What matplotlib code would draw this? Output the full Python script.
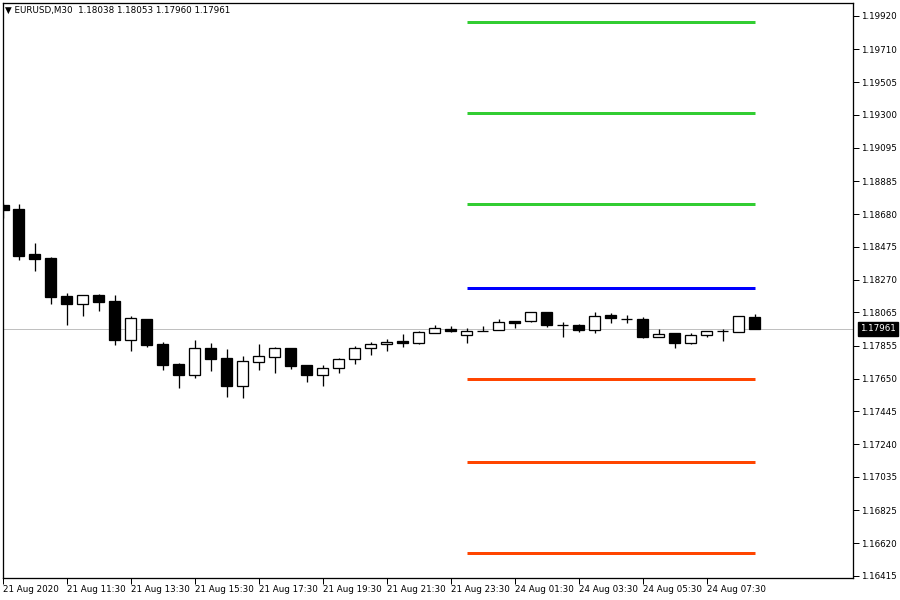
import matplotlib
matplotlib.use("Agg")
import matplotlib.pyplot as plt
import numpy as np

plt.rcParams['font.family'] = ['DejaVu Sans']

opens = [1.18737, 1.18712, 1.18430, 1.18407, 1.18168, 1.18119, 1.18174, 1.18136,
         1.17894, 1.18024, 1.17867, 1.17742, 1.17675, 1.17840, 1.17778, 1.17606,
         1.17756, 1.17784, 1.17840, 1.17734, 1.17675, 1.17715, 1.17771, 1.17840,
         1.17867, 1.17886, 1.17875, 1.17934, 1.17961, 1.17922, 1.17945, 1.17953,
         1.18011, 1.18009, 1.18065, 1.17984, 1.17984, 1.17955, 1.18050, 1.18023,
         1.18024, 1.17913, 1.17934, 1.17875, 1.17922, 1.17945, 1.17940, 1.18038]
highs = [1.18750, 1.18743, 1.18499, 1.18414, 1.18186, 1.18174, 1.18180, 1.18174,
         1.18042, 1.18024, 1.17881, 1.17746, 1.17892, 1.17875, 1.17836, 1.17792,
         1.17867, 1.17846, 1.17840, 1.17734, 1.17736, 1.17778, 1.17855, 1.17880,
         1.17896, 1.17930, 1.17947, 1.17986, 1.17978, 1.17965, 1.17978, 1.18024,
         1.18011, 1.18065, 1.18065, 1.18003, 1.17990, 1.18065, 1.18059, 1.18049,
         1.18038, 1.17959, 1.17934, 1.17934, 1.17947, 1.17959, 1.18040, 1.18053]
lows = [1.18658, 1.18393, 1.18324, 1.18119, 1.17986, 1.18042, 1.18074, 1.17861,
        1.17825, 1.17848, 1.17704, 1.17594, 1.17656, 1.17700, 1.17537, 1.17531,
        1.17704, 1.17687, 1.17711, 1.17631, 1.17604, 1.17687, 1.17744, 1.17796,
        1.17825, 1.17850, 1.17869, 1.17934, 1.17940, 1.17875, 1.17945, 1.17953,
        1.17965, 1.18003, 1.17972, 1.17909, 1.17940, 1.17934, 1.17997, 1.17997,
        1.17906, 1.17913, 1.17844, 1.17865, 1.17913, 1.17888, 1.17940, 1.17960]
closes = [1.18706, 1.18418, 1.18401, 1.18163, 1.18119, 1.18174, 1.18132, 1.17892,
          1.18028, 1.17861, 1.17736, 1.17673, 1.17840, 1.17775, 1.17606, 1.17759,
          1.17790, 1.17840, 1.17731, 1.17675, 1.17715, 1.17771, 1.17840, 1.17865,
          1.17878, 1.17875, 1.17940, 1.17965, 1.17948, 1.17947, 1.17948, 1.18003,
          1.18000, 1.18065, 1.17984, 1.17986, 1.17953, 1.18040, 1.18032, 1.18024,
          1.17913, 1.17930, 1.17875, 1.17923, 1.17947, 1.17947, 1.18040, 1.17961]

tick_labels = ["21 Aug 2020", "21 Aug 11:30", "21 Aug 13:30", "21 Aug 15:30",
               "21 Aug 17:30", "21 Aug 19:30", "21 Aug 21:30", "21 Aug 23:30",
               "24 Aug 01:30", "24 Aug 03:30", "24 Aug 05:30", "24 Aug 07:30"]
tick_bars = [0, 4, 8, 12, 16, 20, 24, 28, 32, 36, 40, 44]

price_ticks = [1.19920, 1.19710, 1.19505, 1.19300, 1.19095, 1.18885, 1.18680,
               1.18475, 1.18270, 1.18065, 1.17855, 1.17650, 1.17445, 1.17240,
               1.17035, 1.16825, 1.16620, 1.16415]

resistance_levels = [1.19882, 1.19313, 1.18743]
pivot_level = 1.18218
support_levels = [1.17648, 1.17129, 1.16559]
pivot_start_bar = 29
pivot_end_bar = 47

current_price = 1.17961
header = "\u25BC EURUSD,M30  1.18038 1.18053 1.17960 1.17961"

PX = 0.72  # one pixel in points at dpi 100

fig = plt.figure(figsize=(9, 6), dpi=100)
fig.patch.set_facecolor('white')
ax = fig.add_axes([3 / 900, 22 / 600, 850 / 900, 575 / 600])
ax.set_facecolor('white')

n = len(opens)
x = np.arange(n)
o = np.array(opens); h = np.array(highs); l = np.array(lows); c = np.array(closes)

# current price line
ax.axhline(current_price, color='#C0C0C0', lw=1 * PX, zorder=1)

# pivot lines
for lv in resistance_levels:
    ax.plot([pivot_start_bar, pivot_end_bar], [lv, lv], color='#32CD32', lw=3 * PX,
            solid_capstyle='butt', zorder=2)
ax.plot([pivot_start_bar, pivot_end_bar], [pivot_level, pivot_level], color='#0000FF',
        lw=3 * PX, solid_capstyle='butt', zorder=2)
for lv in support_levels:
    ax.plot([pivot_start_bar, pivot_end_bar], [lv, lv], color='#FF4500', lw=3 * PX,
            solid_capstyle='butt', zorder=2)

# wicks
ax.vlines(x, l, h, color='black', lw=1.3 * PX, zorder=3)

# bodies
bw = 11 / 16
bottoms = np.minimum(o, c)
heights = np.maximum(np.abs(c - o), 1e-7)
colors = ['black' if cc < oo else 'white' for oo, cc in zip(o, c)]
ax.bar(x, heights, bottom=bottoms, width=bw, color=colors, edgecolor='black',
       linewidth=1.3 * PX, zorder=4)

ax.set_xlim(0, 850 / 16)
ax.set_ylim(1.16402, 1.20001)

for s in ax.spines.values():
    s.set_color('black')
    s.set_linewidth(1.3 * PX)

ax.set_xticks(tick_bars)
ax.set_xticklabels(tick_labels)
ax.tick_params(axis='x', direction='out', length=4, width=1 * PX, pad=1,
               labelsize=6.3, colors='black')
for lab in ax.get_xticklabels():
    lab.set_horizontalalignment('left')

ax.yaxis.tick_right()
ax.set_yticks(price_ticks)
ax.set_yticklabels([f"{p:.5f}" for p in price_ticks])
ax.tick_params(axis='y', direction='out', length=4, width=1 * PX, pad=2,
               labelsize=6.3, colors='black')

# current price label
ax.annotate(f"{current_price:.5f}", xy=(1.0, current_price), xycoords=('axes fraction', 'data'),
            xytext=(5, 0), textcoords='offset points', ha='left', va='center',
            fontsize=6.3, color='white',
            bbox=dict(boxstyle='square,pad=0.25', fc='black', ec='black'),
            annotation_clip=False, zorder=10)

fig.text(5 / 900, 1 - 10 / 600, header, fontsize=6.3, ha='left', va='center', color='black')

fig.savefig('out.png', dpi=100, facecolor='white')
